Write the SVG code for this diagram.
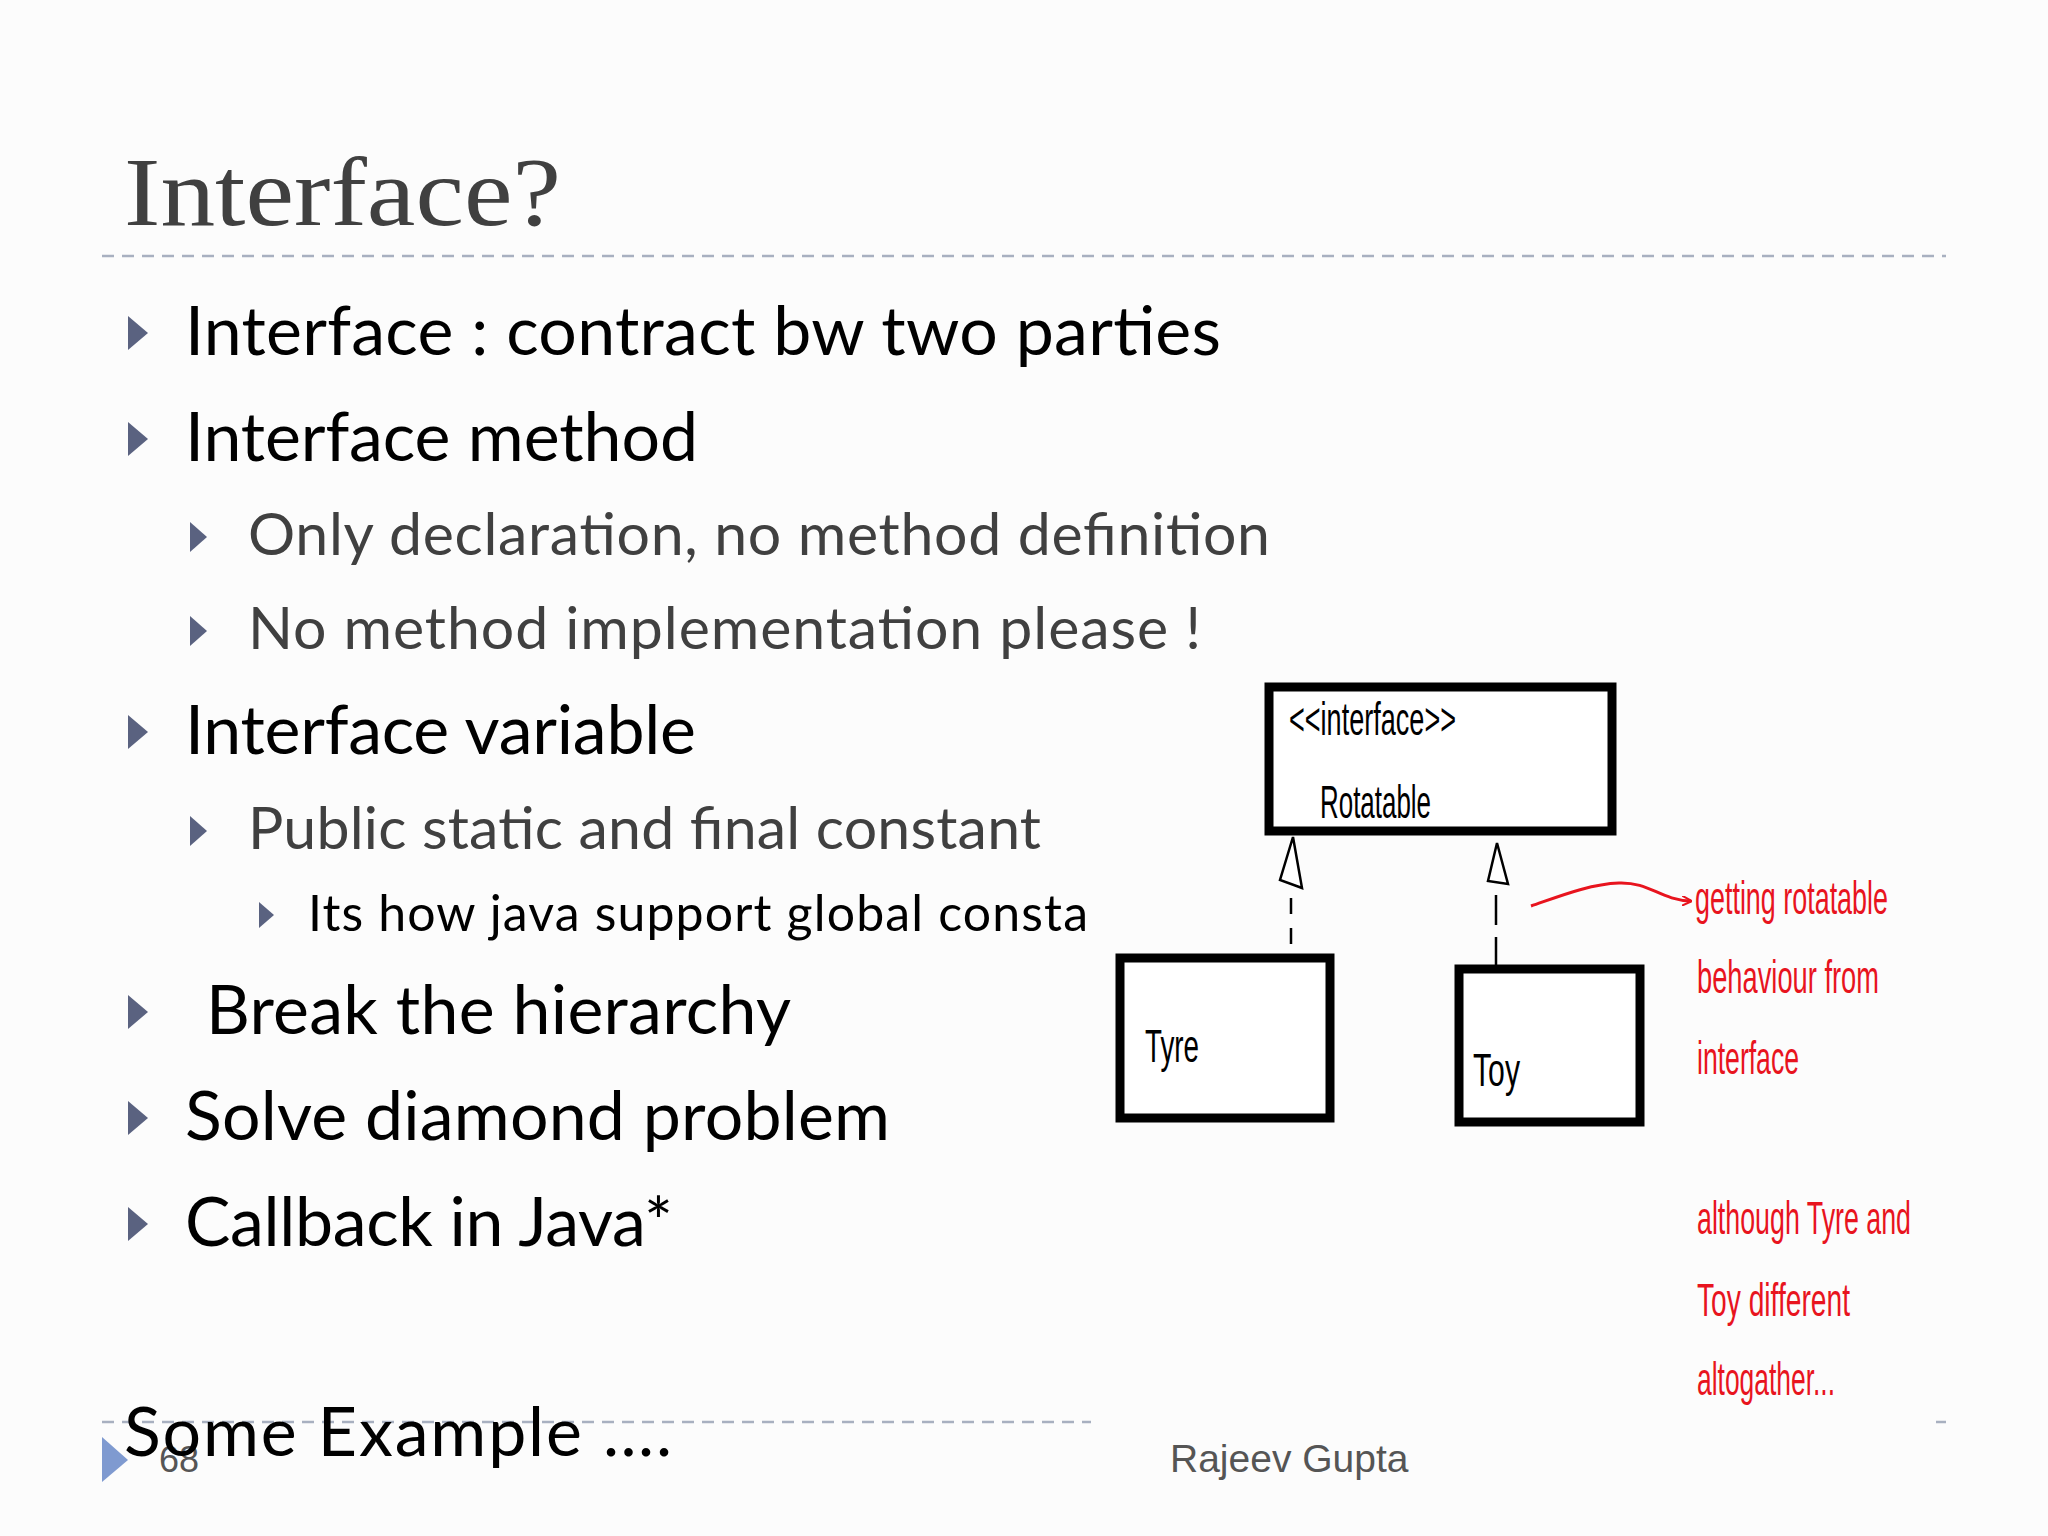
<svg xmlns="http://www.w3.org/2000/svg" width="2048" height="1536" viewBox="0 0 2048 1536">
<style>
.m{font-family:Lato,"Open Sans",sans-serif;font-size:68px;fill:#000}
.s{font-family:Lato,"Open Sans",sans-serif;font-size:59px;fill:#404040}
.ss{font-family:Lato,"Open Sans",sans-serif;font-size:50px;fill:#000}
.b{fill:#5a6280}
.r{font-family:"Liberation Sans",sans-serif;font-size:46px;fill:#e8141e}
.k{font-family:"Liberation Sans",sans-serif;font-size:46px;fill:#000}
.box{fill:#fff;stroke:#000;stroke-width:9}
.dl{stroke:#a8b0c0;stroke-width:2.5;stroke-dasharray:12 8}
</style>
<defs>
<marker id="ra" viewBox="0 0 10 10" refX="9" refY="5" markerWidth="10" markerHeight="10" orient="auto" markerUnits="userSpaceOnUse"><path d="M0,0 L10,5 L0,10" fill="none" stroke="#e8141e" stroke-width="2"/></marker>
</defs>
<rect width="2048" height="1536" fill="#fcfcfc"/>
<text x="124" y="225" font-family="Liberation Serif,serif" font-size="97" fill="#404040" textLength="437" lengthAdjust="spacingAndGlyphs">Interface?</text>
<line class="dl" x1="102" y1="256" x2="1946" y2="256"/>
<g id="bullets">
<path class="b" d="M128,316 L128,350 L148,333Z"/><text class="m" x="185" y="355" textLength="1036">Interface : contract bw two parties</text>
<path class="b" d="M128,422 L128,456 L148,439Z"/><text class="m" x="185" y="461" textLength="513">Interface method</text>
<path class="b" d="M190,522 L190,552 L207,537Z"/><text class="s" x="248" y="555" textLength="1022">Only declaration, no method definition</text>
<path class="b" d="M190,616 L190,646 L207,631Z"/><text class="s" x="248" y="649" textLength="953">No method implementation please !</text>
<path class="b" d="M128,715 L128,749 L148,732Z"/><text class="m" x="185" y="754" textLength="511">Interface variable</text>
<path class="b" d="M190,816 L190,846 L207,831Z"/><text class="s" x="248" y="849" textLength="793">Public static and final constant</text>
<path class="b" d="M259,902 L259,928 L274,915Z"/><text class="ss" x="308" y="931" textLength="780">Its how java support global consta</text>
<path class="b" d="M128,995 L128,1029 L148,1012Z"/><text class="m" x="206" y="1034" textLength="585">Break the hierarchy</text>
<path class="b" d="M128,1101 L128,1135 L148,1118Z"/><text class="m" x="185" y="1140" textLength="705">Solve diamond problem</text>
<path class="b" d="M128,1207 L128,1241 L148,1224Z"/><text class="m" x="185" y="1246" textLength="488">Callback in Java*</text>
</g>
<line class="dl" x1="102" y1="1422" x2="1091" y2="1422"/>
<line class="dl" x1="1936" y1="1422" x2="1946" y2="1422"/>
<path d="M102,1437 L102,1482 L128,1460Z" fill="#7f9ad0"/>
<text x="159" y="1472" font-family="Liberation Sans,sans-serif" font-size="36" fill="#555">68</text>
<text class="m" x="124" y="1456" textLength="548">Some Example ….</text>
<text x="1170" y="1472" font-family="Liberation Sans,sans-serif" font-size="39" fill="#555">Rajeev Gupta</text>
<g id="rotatable"><rect class="box" x="1269" y="687" width="343" height="144"/>
<text class="k" x="1289" y="735" textLength="167" lengthAdjust="spacingAndGlyphs">&lt;&lt;interface&gt;&gt;</text>
<text class="k" x="1320" y="818" font-size="50" textLength="111" lengthAdjust="spacingAndGlyphs">Rotatable</text></g>
<g id="tyre"><rect class="box" x="1120" y="958" width="210" height="160"/>
<text class="k" x="1145" y="1062" font-size="54" textLength="54" lengthAdjust="spacingAndGlyphs">Tyre</text></g>
<g id="toy"><rect class="box" x="1459" y="969" width="181" height="153"/>
<text class="k" x="1473" y="1086" font-size="56" textLength="47" lengthAdjust="spacingAndGlyphs">Toy</text></g>
<g id="connectors" fill="none" stroke="#000" stroke-width="2.5">
<path d="M1293,837 L1280,880 L1302,888Z" fill="#fff"/>
<path d="M1291,898 V957" stroke-dasharray="16 14"/>
<path d="M1497,843 L1488,881 L1508,884Z" fill="#fff"/>
<path d="M1496,895 V968" stroke-dasharray="30 12"/>
<path d="M1531,906 C1560,896 1590,884 1619,883 C1650,882 1660,900 1691,901" stroke="#e8141e" stroke-width="3" marker-end="url(#ra)"/>
</g>
<g id="notes">
<text class="r" x="1695" y="914" font-size="50" textLength="193" lengthAdjust="spacingAndGlyphs">getting rotatable</text>
<text class="r" x="1697" y="993" font-size="50" textLength="182" lengthAdjust="spacingAndGlyphs">behaviour from</text>
<text class="r" x="1697" y="1074" font-size="50" textLength="102" lengthAdjust="spacingAndGlyphs">interface</text>
<text class="r" x="1697" y="1234" font-size="50" textLength="214" lengthAdjust="spacingAndGlyphs">although Tyre and</text>
<text class="r" x="1697" y="1316" font-size="50" textLength="153" lengthAdjust="spacingAndGlyphs">Toy different</text>
<text class="r" x="1697" y="1395" font-size="50" textLength="138" lengthAdjust="spacingAndGlyphs">altogather...</text>
</g>
</svg>
